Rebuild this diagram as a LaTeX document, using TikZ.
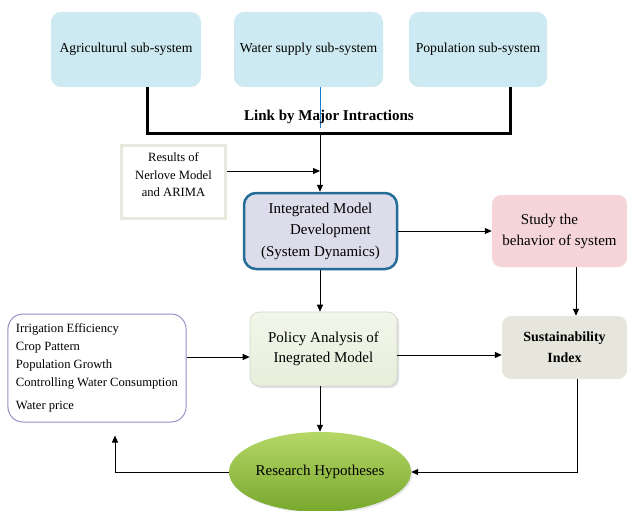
\documentclass[tikz,border=0pt]{standalone}
\usepackage{fontspec}
\setmainfont{Liberation Serif}
\usetikzlibrary{arrows.meta,shapes.geometric,shadows}
\definecolor{topblue}{HTML}{CDE9F1}
\definecolor{resborder}{HTML}{E8E8DC}
\definecolor{integfill}{HTML}{DCDCEB}
\definecolor{integborder}{HTML}{236D96}
\definecolor{studyfill}{HTML}{F5D5D9}
\definecolor{susfill}{HTML}{E6E6DC}
\definecolor{poltop}{HTML}{F2F6EA}
\definecolor{polbot}{HTML}{E7EEDB}
\definecolor{polborder}{HTML}{D0D6C8}
\definecolor{listborder}{HTML}{9B8CC4}
\definecolor{hyptop}{HTML}{B5D766}
\definecolor{hypbot}{HTML}{78A82E}
\definecolor{bluel}{HTML}{1A7FC8}
\begin{document}
\begin{tikzpicture}[x=1pt,y=-1pt,
  topbox/.style={rectangle,rounded corners=10pt,fill=topblue,minimum height=75,
    font=\fontsize{13.7}{16}\selectfont,inner sep=2pt},
  arr/.style={line width=1pt,-{Triangle[length=7pt,width=6pt]}},
  bracketline/.style={line width=3pt,line join=miter},
]
\useasboundingbox (0,0) rectangle (627,511);

% top boxes
\node[topbox,minimum width=150] (agri) at (126,49.5) {Agriculturul sub-system};
\node[topbox,minimum width=149] (water) at (308.5,49.5) {Water supply sub-system};
\node[topbox,minimum width=138] (pop) at (478,49.5) {Population sub-system};

% bracket
\coordinate (bl) at (147,133);
\coordinate (br) at (510,133);
\coordinate (junc) at (320,133);
\coordinate (blueend) at (320,128);
\draw[bracketline] (bl |- agri.south) -- (bl) -- (br) -- (br |- pop.south);
\draw[bluel,line width=1pt] (water.south -| junc) -- (blueend);
\node[font=\bfseries\fontsize{15}{18}\selectfont] (link) at (329,117) {Link by Major Intractions};

% results
\node[rectangle,draw=resborder,line width=3pt,fill=white,minimum width=104,minimum height=73,
  align=center,font=\fontsize{12.6}{17.5}\selectfont,inner sep=0pt] (results) at (173.5,182)
  {Results of\\Nerlove Model\\and ARIMA\\[-8pt] \strut};

% integrated
\node[rectangle,rounded corners=12pt,draw=integborder,line width=2.5pt,fill=integfill,
  minimum width=153,minimum height=76,align=center,font=\fontsize{15}{21.5}\selectfont,inner sep=0pt]
  (integ) at (320.5,231) {Integrated Model\\\hspace*{20pt}Development\\(System Dynamics)};

% study
\node[rectangle,rounded corners=9pt,fill=studyfill,minimum width=135,minimum height=72,
  align=center,font=\fontsize{15}{21}\selectfont,inner sep=0pt]
  (study) at (559.5,231) {Study the\hspace*{20pt}\\behavior of system};

% sustainability
\node[rectangle,rounded corners=9pt,fill=susfill,minimum width=125,minimum height=63,
  align=center,font=\bfseries\fontsize{14}{21}\selectfont,inner sep=0pt]
  (sus) at (564.5,347.5) {Sustainability\\Index};

% policy
\node[rectangle,rounded corners=9pt,draw=polborder,line width=0.6pt,top color=poltop,bottom color=polbot,
  drop shadow={opacity=0.25,shadow xshift=2pt,shadow yshift=-2pt},
  minimum width=147,minimum height=74,align=center,font=\fontsize{15}{20}\selectfont,inner sep=0pt]
  (policy) at (323.5,349) {Policy Analysis of\\Inegrated Model};

% list
\node[rectangle,rounded corners=15pt,draw=listborder,line width=1pt,fill=white,
  minimum width=176,minimum height=108,align=left,font=\fontsize{12.6}{18}\selectfont,
  inner xsep=8pt,inner ysep=0pt]
  (list) at (97,368) {Irrigation Efficiency\\Crop Pattern\\Population Growth\\Controlling Water Consumption\\[5pt]Water price};

% hypotheses ellipse
\node[ellipse,top color=hyptop,bottom color=hypbot,
  drop shadow={opacity=0.2,shadow xshift=1.5pt,shadow yshift=-1.5pt},
  minimum width=154,minimum height=80,inner sep=0pt,font=\fontsize{15}{18}\selectfont]
  (hyp) at (320,472) {Research Hypotheses};

% connectors
\draw[arr] (junc) -- (integ.north -| junc);
\coordinate (rj) at (320,171);
\draw[arr] (results.east |- rj) -- (rj);
\draw[arr] (integ.east) -- (study.west);
\coordinate (sx) at (576,300);
\draw[arr] (study.south -| sx) -- (sus.north -| sx);
\draw[arr] (integ.south -| junc) -- (policy.north -| junc);
\draw[arr] (policy.south -| junc) -- (hyp.north -| junc);
\coordinate (pj) at (400,355);
\draw[arr] (policy.east |- pj) -- (sus.west |- pj);
\coordinate (lj) at (200,357);
\draw[arr] (list.east |- lj) -- (policy.west |- lj);
\coordinate (rc) at (577,472);
\draw[arr] (sus.south -| rc) -- (rc) -- (hyp.east);
\coordinate (lc) at (115,472);
\draw[arr,shorten >=13pt] (hyp.west) -- (lc) -- (lc |- list.south);
\end{tikzpicture}
\end{document}
